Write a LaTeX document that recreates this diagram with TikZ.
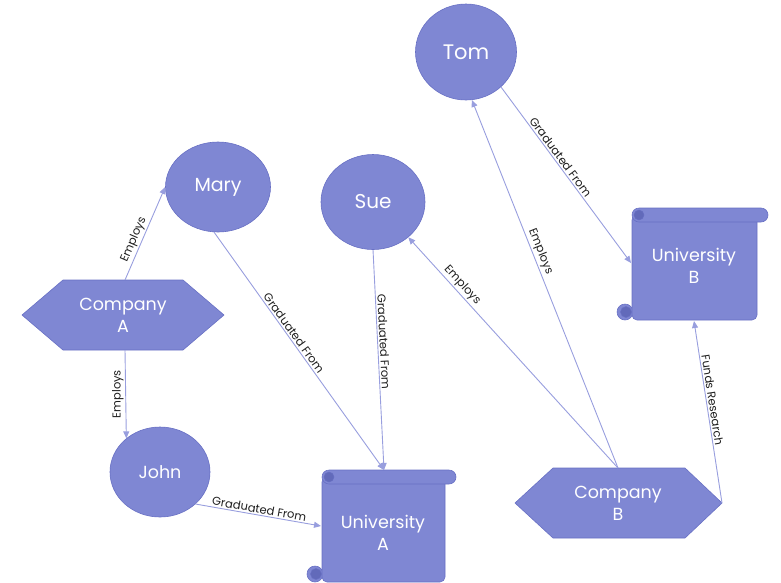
\documentclass[tikz,border=0pt]{standalone}
\usepackage{fontspec}
\setmainfont{Poppins}
\usetikzlibrary{arrows.meta,shapes.geometric}

\definecolor{shapefill}{RGB}{127,135,211}
\definecolor{shapeedge}{RGB}{104,112,196}
\definecolor{curl}{RGB}{98,106,186}
\definecolor{link}{RGB}{152,158,222}
\definecolor{labeltext}{RGB}{30,30,30}

\tikzset{
  person/.style={ellipse, fill=shapefill, draw=shapeedge, line width=0.6pt,
    inner sep=0pt, text=white},
  entity/.style={fill=shapefill, draw=shapeedge, line width=0.6pt},
  curlfill/.style={fill=curl, draw=shapeedge, line width=0.5pt},
  bigtext/.style={text=white, align=center, inner sep=0pt,
    font=\fontsize{17.5}{22}\selectfont},
  rel/.style={draw=link, line width=0.9pt, -{Triangle[length=7pt,width=6pt]}},
  lbl/.style={font=\fontsize{11.5}{13}\selectfont, text=labeltext, inner sep=1.5pt},
}

% scroll: left, top, right (body), bottom
\newcommand\drawscroll[4]{%
  \filldraw[entity] (#1-7,#4-8) circle[radius=8pt];
  \filldraw[entity, rounded corners=5pt] (#1,#2+7) rectangle (#3,#4);
  \filldraw[curlfill] (#1-6,#4-8) circle[radius=5.5pt];
  \filldraw[entity, rounded corners=7pt] (#1,#2) rectangle (#3+11,#2+14);
  \filldraw[curlfill] (#1+7,#2+7) circle[radius=5pt];
}

\begin{document}
\begin{tikzpicture}[x=1pt,y=-1pt]
\useasboundingbox (0,0) rectangle (781,582);

% people
\node[person, minimum width=101pt, minimum height=96pt,
  font=\fontsize{21}{24}\selectfont] (tom) at (466,52) {Tom};
\node[person, minimum width=105pt, minimum height=90pt,
  font=\fontsize{19}{22}\selectfont] (mary) at (218,187) {Mary};
\node[person, minimum width=104pt, minimum height=95pt,
  font=\fontsize{20}{23}\selectfont] (sue) at (373,202) {Sue};
\node[person, minimum width=100pt, minimum height=90pt,
  font=\fontsize{17.5}{21}\selectfont] (john) at (160,472) {John};

% companies
\filldraw[entity] (22,315) -- (63,280) -- (183,280) -- (224,315)
  -- (183,350) -- (63,350) -- cycle;
\node[bigtext] (coA) at (123,315) {Company\\A};
\coordinate (coAtop) at (125,280);
\coordinate (coAbot) at (125,350);

\filldraw[entity] (515,503) -- (553,468) -- (685,468) -- (722,503)
  -- (685,538) -- (553,538) -- cycle;
\node[bigtext] (coB) at (618,503) {Company\\B};
\coordinate (coBtop) at (618,468);
\coordinate (coBright) at (722,503);

% universities
\drawscroll{322}{470}{445}{582}
\node[bigtext] (uA) at (383,533) {University\\A};
\coordinate (uAtop) at (384,470);
\coordinate (uAleft) at (321,526);

\drawscroll{632}{208}{757}{320}
\node[bigtext] (uB) at (694,266) {University\\B};
\coordinate (uBleft) at (631,263);
\coordinate (uBbot) at (694,321);

% relations
\draw[rel] (coAtop) -- node[lbl, sloped, above, pos=0.4] {Employs} (mary.west);
\draw[rel] (coAbot) -- node[lbl, rotate=90, anchor=south, pos=0.5] {Employs} (john.135);
\draw[rel] (mary.-95) -- node[lbl, sloped, above, pos=0.44] {Graduated From} (uAtop);
\draw[rel] (sue.south) -- node[lbl, sloped, above, pos=0.42] {Graduated From} (uAtop);
\draw[rel] (john.-42) -- node[lbl, sloped, above, pos=0.5] {Graduated From} (uAleft);
\draw[rel] (coBtop) -- node[lbl, sloped, above, pos=0.77] {Employs} (sue.-45);
\draw[rel] (coBtop) -- node[lbl, sloped, above, pos=0.58] {Employs} (tom.-83);
\draw[rel] (tom.-45) -- node[lbl, sloped, above, pos=0.42] {Graduated From} (uBleft);
\draw[rel] (coBright) -- node[lbl, sloped, above, pos=0.56] {Funds Research} (uBbot);
\end{tikzpicture}
\end{document}
